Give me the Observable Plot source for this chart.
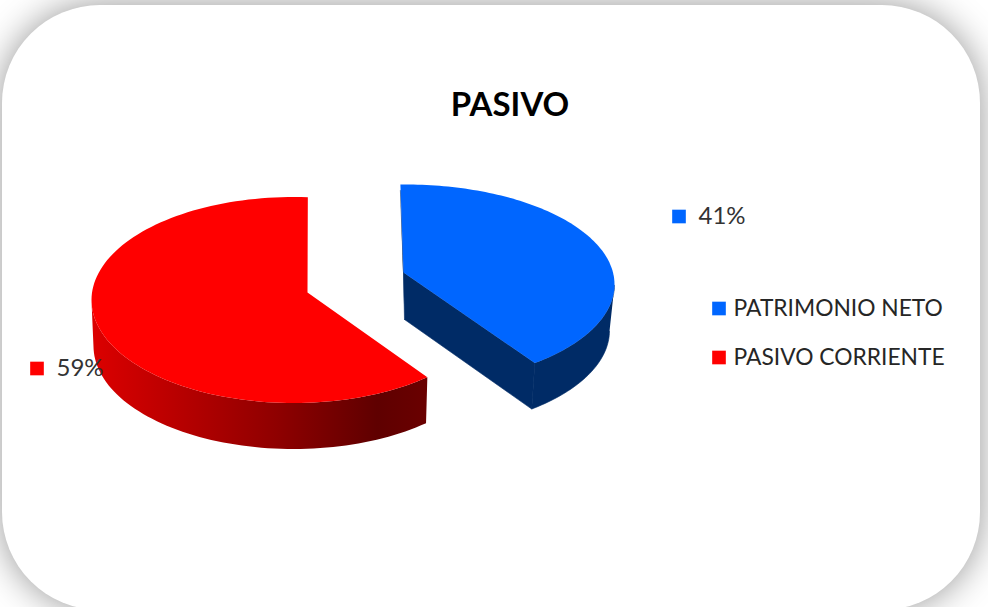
<!DOCTYPE html>
<html><head><meta charset="utf-8">
<script src="https://cdn.jsdelivr.net/npm/d3@7"></script>
<script src="https://cdn.jsdelivr.net/npm/@observablehq/plot@0.6"></script>
<style>
html,body{margin:0;padding:0;width:988px;height:607px;overflow:hidden;background:#fff}
#card{position:absolute;left:2px;top:5px;width:978px;height:605px;border-radius:98px;background:#fff;box-shadow:0 0 36px rgba(0,0,0,.42)}
#chart{position:absolute;left:0;top:0}
#chart svg{background:transparent;display:block}
</style></head><body>
<div id="card"></div><div id="chart"></div>
<script>
const title = "PASIVO";
const categories = ["PATRIMONIO NETO", "PASIVO CORRIENTE"];
const values = [41, 59];
const topColors = ["#0066ff", "#ff0000"];
const wallColors = ["#002b66", "url(#redWall)"];

// 3D view of each exploded slice (layout only)
const views = [
  {cx:405,cy:284,rx:209,ry:100,brx:204,ax:403,ay:272,phi0:-1.4,gain:0.97,depth:46,limit:p=>p>=90},
  {cx:293,cy:299.5,rx:202,ry:103,brx:200,ax:307,ay:292,phi0:138.5,gain:1.062,depth:46,limit:p=>p<=270}
];
const labelPos = [{x:672,y:216},{x:30,y:368}];
const legendPos = [{x:712,y:308},{x:712,y:357}];
const font = "Lato, Carlito, sans-serif";

const total = d3.sum(values);
const cum = d3.cumsum(values).map(v => v / total);

const defs = () => {
  const ns = "http://www.w3.org/2000/svg";
  const d = document.createElementNS(ns, "defs");
  const g = document.createElementNS(ns, "linearGradient");
  g.setAttribute("id", "redWall");
  g.setAttribute("gradientUnits", "userSpaceOnUse");
  g.setAttribute("x1", 91); g.setAttribute("x2", 427);
  g.setAttribute("y1", 0); g.setAttribute("y2", 0);
  [[0,"#dc0000"],[0.55,"#8f0000"],[0.85,"#5f0000"],[1,"#6a0000"]].forEach(([o,c]) => {
    const s = document.createElementNS(ns, "stop");
    s.setAttribute("offset", o); s.setAttribute("stop-color", c);
    g.appendChild(s);
  });
  d.appendChild(g);
  return d;
};

const shape = (pts, fill, stroke = "none") =>
  Plot.line(pts, {x:"x", y:"y", fill, stroke, strokeWidth:0.6, curve:"linear"});

const marks = [defs];
values.forEach((v, i) => {
  const f0 = i ? cum[i-1] : 0, f1 = cum[i], w = views[i];
  const angles = d3.range(121).map(k => w.phi0 + (f0 + (f1 - f0) * k / 120 - f0) * 360 * w.gain);
  const rad = d => d * Math.PI / 180;
  const onTop = p => ({x: w.cx + w.rx * Math.sin(rad(p)), y: w.cy - w.ry * Math.cos(rad(p))});
  const onBottom = p => ({x: w.cx + w.brx * Math.sin(rad(p)), y: w.cy + w.depth - w.ry * Math.cos(rad(p))});
  const top = angles.map(onTop);
  const front = angles.filter(w.limit);
  const wall = [...front.map(onTop), ...front.slice().reverse().map(onBottom)];
  const apex = {x: w.ax, y: w.ay}, apexB = {x: w.ax + 1, y: w.ay + w.depth + 1};
  if (i === 0) {
    // the visible cut faces of the exploded blue slice
    marks.push(shape([apex, top[120], onBottom(angles[120]), apexB], wallColors[i], wallColors[i]));
    marks.push(shape([{x:top[0].x, y:top[0].y + 6}, apex, apexB], wallColors[i], wallColors[i]));
    marks.push(shape(wall, wallColors[i], wallColors[i]));
  } else {
    marks.push(shape(wall, wallColors[i]));
  }
  marks.push(shape([apex, ...top], topColors[i]));
});

const labelData = values.map((v, i) => ({t:`${v}%`, c:topColors[i], ...labelPos[i]}));
const legendData = categories.map((t, i) => ({t, c:topColors[i], ...legendPos[i]}));
const squares = [...labelData, ...legendData];
marks.push(
  Plot.dot(squares, {x:"x", dx:6.5, y:"y", r:7.7, symbol:"square", fill:"c", stroke:"none"}),
  Plot.text(labelData, {x:"x", dx:26, y:"y", text:"t", textAnchor:"start", fill:"#333", fontSize:24, fontFamily:font}),
  Plot.text(legendData, {x:"x", dx:21, y:"y", text:"t", textAnchor:"start", fill:"#262626", fontSize:22.8, fontFamily:font}),
  Plot.text([title], {x:()=>509.5, y:()=>105, text:d=>d, textAnchor:"middle", fill:"#000", fontSize:33, fontWeight:700, fontFamily:font})
);

const chart = Plot.plot({
  width:988, height:607, margin:0,
  x:{domain:[0,988], range:[0,988], axis:null},
  y:{domain:[0,607], range:[0,607], axis:null},
  marks
});
document.getElementById("chart").appendChild(chart);
</script>
</body></html>
